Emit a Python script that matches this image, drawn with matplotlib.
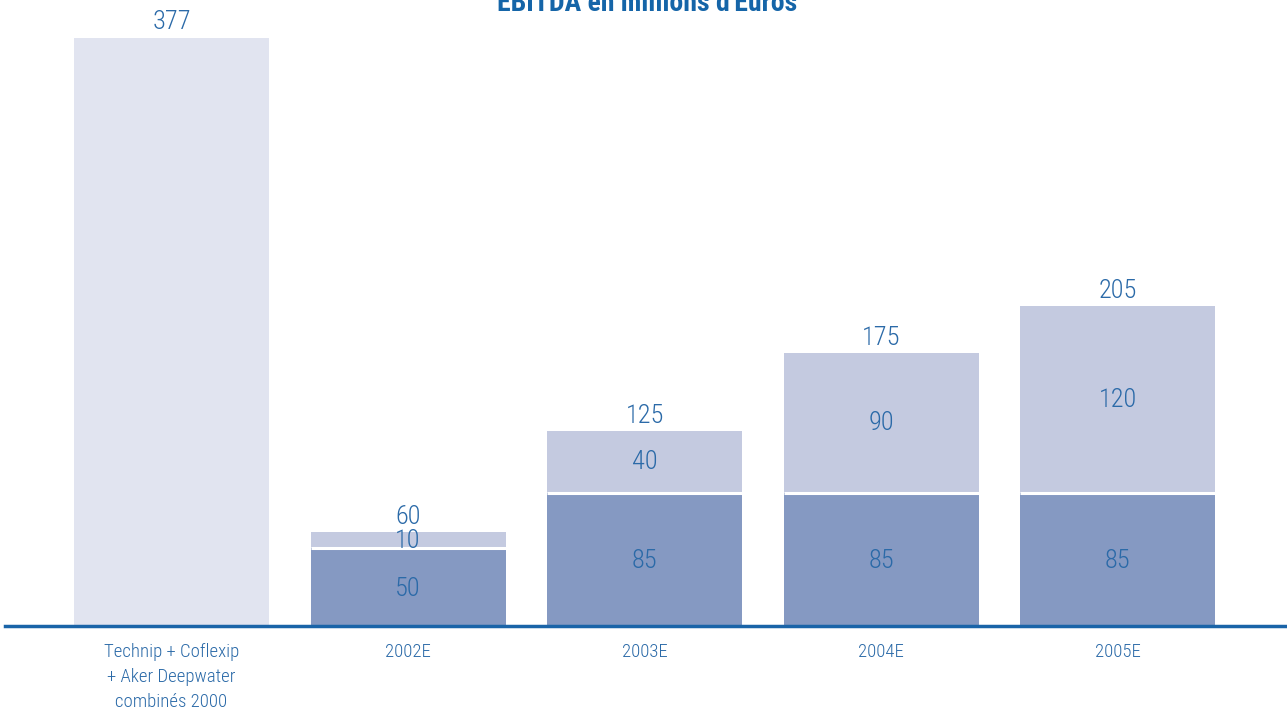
import matplotlib
matplotlib.use("Agg")
import matplotlib.pyplot as plt

categories = ["Technip + Coflexip\n+ Aker Deepwater\ncombinés 2000", "2002E", "2003E", "2004E", "2005E"]
base_values = [377, 50, 85, 85, 85]
top_values = [0, 10, 40, 90, 120]
totals = [377, 60, 125, 175, 205]
title = "EBITDA en millions d'Euros"

fam = ["Roboto Condensed", "Asap Condensed", "DejaVu Sans"]
plt.rcParams['font.family'] = fam

W, H = 1287, 709
fig = plt.figure(figsize=(W / 100, H / 100), dpi=100)
left_px, base_px = 5, 626
ax = fig.add_axes([left_px / W, (H - base_px) / H, 1 - left_px / W, base_px / H])
ppu = 1.56
step = 236.6
c0 = 171.5
ax.set_xlim(-(c0 - left_px) / step, (W - c0) / step)
ax.set_ylim(0, base_px / ppu)

text_col = "#2b6aa8"
xs = list(range(len(categories)))
base_colors = ["#e1e4f0"] + ["#8599c2"] * 4
bw = 195 / step
ax.bar(xs, base_values, width=bw, color=base_colors, edgecolor="none", zorder=2)
ax.bar(xs[1:], top_values[1:], bottom=base_values[1:], width=bw, color="#c4cae0",
       edgecolor="none", zorder=2)
for i in xs[1:]:
    ax.plot([i - bw / 2, i + bw / 2], [base_values[i], base_values[i]], color="white", lw=2.2, zorder=3,
            solid_capstyle="butt")

fs = 19
lw = 300
for i in xs:
    ax.text(i, totals[i] + 17 / ppu - 1, str(totals[i]), ha="center", va="center",
            fontsize=fs, color=text_col, fontweight=lw)
    if i > 0:
        ax.text(i, base_values[i] / 2 - 1, str(base_values[i]), ha="center", va="center",
                fontsize=fs, color=text_col, zorder=4, fontweight=lw)
        ax.text(i, base_values[i] + top_values[i] / 2 + (0 if i > 1 else -0.5), str(top_values[i]),
                ha="center", va="center", fontsize=fs, color=text_col, zorder=4, fontweight=lw)

for s in ["top", "right", "left"]:
    ax.spines[s].set_visible(False)
ax.spines["bottom"].set_color("#1a64a8")
ax.spines["bottom"].set_linewidth(2.5)
ax.spines["bottom"].set_zorder(5)
ax.set_yticks([])
ax.set_xticks(xs)
ax.set_xticklabels(categories, fontsize=13.5, color=text_col, linespacing=1.5, fontweight=lw)
ax.tick_params(axis="x", length=0, pad=12)

fig.text(0.5028, 1 - 11 / H, title, ha="center", va="baseline", fontsize=20,
         fontweight="bold", color="#1565a8")

fig.savefig("out.png", dpi=100)
